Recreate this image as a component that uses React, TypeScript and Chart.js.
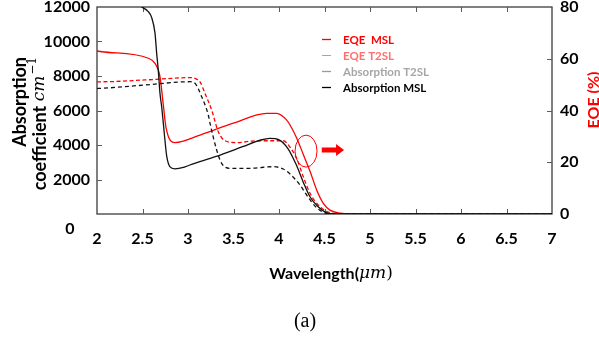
import React, { useEffect, useRef } from "react";
import { Chart, registerables } from "chart.js";

Chart.register(...registerables);

// ---- data (wavelength in µm) ----
const absMslWl = [2.0, 2.3, 2.45, 2.5, 2.56, 2.6, 2.637, 2.656, 2.674, 2.692, 2.711, 2.729, 2.75, 2.766, 2.8, 2.857, 2.95, 3.02, 3.3, 3.6, 3.8, 3.9, 4.0, 4.1, 4.19, 4.27, 4.34, 4.43, 4.52, 4.6, 5.0, 7.0];
const absMslVal = [13000, 12700, 12150, 11980, 11750, 11400, 10500, 9300, 8300, 7000, 6200, 5250, 4100, 3350, 2750, 2620, 2700, 2840, 3320, 3900, 4290, 4380, 4300, 3780, 2850, 1800, 1000, 420, 80, 0, 0, 0];

const absT2slWl = [2.0, 2.052, 2.527, 3.022, 3.077, 3.15, 3.223, 3.242, 3.315, 3.37, 3.462, 3.681, 3.937, 4.047, 4.121, 4.231, 4.318, 4.406, 4.495, 4.6, 5.0, 7.0];
const absT2slVal = [7280, 7287, 7478, 7669, 7577, 6800, 5739, 5258, 3710, 2939, 2649, 2649, 2742, 2609, 2320, 1680, 986, 406, 87, 0, 0, 0];

const eqeMslWl = [2.0, 2.052, 2.564, 2.637, 2.692, 2.729, 2.758, 2.857, 3.132, 3.498, 3.865, 3.975, 4.085, 4.121, 4.194, 4.267, 4.341, 4.414, 4.487, 4.56, 4.67, 4.8, 7.0];
const eqeMslVal = [63.0, 62.7, 60.2, 58.2, 53.1, 42.1, 33.5, 27.6, 30.5, 35.1, 38.9, 38.9, 36.3, 34.4, 29.4, 23.0, 16.5, 9.3, 4.1, 1.5, 0.3, 0, 0];

const eqeT2slWl = [2.0, 2.052, 2.527, 3.04, 3.095, 3.132, 3.187, 3.26, 3.333, 3.407, 3.535, 3.755, 4.047, 4.12, 4.194, 4.267, 4.341, 4.451, 4.56, 4.7, 7.0];
const eqeT2slVal = [51.1, 51.1, 51.8, 52.7, 52.1, 51.1, 46.6, 40.2, 31.8, 28.3, 27.6, 28.3, 28.3, 25.9, 21.5, 14.4, 8.0, 2.8, 0.5, 0, 0];

const X_MIN = 2, X_MAX = 7, X_STEP = 0.5;
const ABS_MAX = 12000, ABS_STEP = 2000;
const EQE_MAX = 80, EQE_STEP = 20;

const seriesLabels = ["EQE  MSL", "EQE T2SL", "Absorption T2SL", "Absorption MSL"];
const legendTextColors = ["#ff0000", "#ff6f6f", "#a6a6a6", "#000000"];
const legendLineColors = ["#ff0000", "#ff8080", "#9a9a9a", "#000000"];

const BOLD = "Lato";
const toXY = (xs: number[], ys: number[]) => xs.map((x, i) => ({ x, y: ys[i] }));

const decorPlugin = {
  id: "decor",
  beforeDatasetsDraw(chart: any) {
    const { ctx, chartArea: ca, scales } = chart;
    const sx = scales.x, sy = scales.y, sy1 = scales.y1;
    ctx.save();
    ctx.strokeStyle = "#3c3c3c";
    ctx.lineWidth = 1.3;
    ctx.strokeRect(ca.left, ca.top, ca.right - ca.left, ca.bottom - ca.top);
    ctx.strokeStyle = "#5a5a5a";
    ctx.lineWidth = 1;
    const L = 5;
    ctx.beginPath();
    for (let v = X_MIN + X_STEP; v < X_MAX - 1e-6; v += X_STEP) {
      const px = Math.round(sx.getPixelForValue(v)) + 0.5;
      ctx.moveTo(px, ca.bottom); ctx.lineTo(px, ca.bottom - L);
      ctx.moveTo(px, ca.top); ctx.lineTo(px, ca.top + L);
    }
    for (let v = ABS_STEP; v < ABS_MAX; v += ABS_STEP) {
      const py = Math.round(sy.getPixelForValue(v)) + 0.5;
      ctx.moveTo(ca.left, py); ctx.lineTo(ca.left + L, py);
    }
    for (let v = EQE_STEP; v < EQE_MAX; v += EQE_STEP) {
      const py = Math.round(sy1.getPixelForValue(v)) + 0.5;
      ctx.moveTo(ca.right, py); ctx.lineTo(ca.right - L, py);
    }
    ctx.stroke();
    ctx.restore();
  },
  afterDraw(chart: any) {
    const { ctx, chartArea: ca, scales } = chart;
    const sx = scales.x, sy1 = scales.y1;
    ctx.save();
    ctx.textBaseline = "middle";

    // lone "0" label of the left axis
    ctx.fillStyle = "#000";
    ctx.font = `bold 16px ${BOLD}`;
    ctx.textAlign = "center";
    ctx.fillText("0", 70, ca.bottom + 15);

    // left title (rotated)
    {
      ctx.save();
      ctx.translate(20, 57);
      ctx.rotate(-Math.PI / 2);
      ctx.textAlign = "right";
      ctx.font = `bold 18px ${BOLD}`;
      ctx.fillText("Absorption", 0, 0);
      ctx.restore();

      ctx.save();
      ctx.translate(40, 57);
      ctx.rotate(-Math.PI / 2);
      ctx.textAlign = "left";
      const f1 = `bold 18px ${BOLD}`;
      const f2 = `italic 17px 'DejaVu Serif'`;
      const f3 = `12px 'DejaVu Serif'`;
      ctx.font = f1; const w1 = ctx.measureText("coefficient ").width;
      ctx.font = f2; const w2 = ctx.measureText("cm").width;
      ctx.font = f3; const w3 = ctx.measureText("\u22121").width;
      let x0 = -(w1 + w2 + w3 + 1);
      ctx.font = f1; ctx.fillText("coefficient ", x0, 0); x0 += w1;
      ctx.font = f2; ctx.fillText("cm", x0, 0); x0 += w2 + 1;
      ctx.font = f3; ctx.fillText("\u22121", x0, -7);
      ctx.restore();
    }

    // right title
    ctx.save();
    ctx.translate(594, 100);
    ctx.rotate(-Math.PI / 2);
    ctx.textAlign = "center";
    ctx.fillStyle = "#ff0000";
    ctx.font = `bold 16px ${BOLD}`;
    ctx.fillText("EOE (%)", 0, 0);
    ctx.restore();

    // bottom title
    {
      const f1 = `bold 16px ${BOLD}`;
      const f2 = `italic 17px 'DejaVu Serif'`;
      const f3 = `17px 'DejaVu Serif'`;
      ctx.font = f1; const w1 = ctx.measureText("Wavelength(").width;
      ctx.font = f2; const w2 = ctx.measureText("\u03bcm").width;
      ctx.font = f3; const w3 = ctx.measureText(")").width;
      let x0 = 331 - (w1 + w2 + w3) / 2;
      const yy = 274;
      ctx.textAlign = "left";
      ctx.fillStyle = "#000";
      ctx.font = f1; ctx.fillText("Wavelength(", x0, yy); x0 += w1;
      ctx.font = f2; ctx.fillText("\u03bcm", x0, yy); x0 += w2;
      ctx.font = f3; ctx.fillText(")", x0, yy);
    }

    // caption
    ctx.textAlign = "center";
    ctx.fillStyle = "#000";
    ctx.font = `20px 'Liberation Serif'`;
    ctx.fillText("(a)", 305, 322);

    // legend
    const rowsY = [39, 55, 71, 87];
    seriesLabels.forEach((lab, i) => {
      const yy = rowsY[i];
      ctx.strokeStyle = legendLineColors[i];
      ctx.lineWidth = i === 1 ? 1 : 1.3;
      ctx.beginPath();
      ctx.moveTo(322, yy + 0.5);
      ctx.lineTo(331, yy + 0.5);
      ctx.stroke();
      ctx.fillStyle = legendTextColors[i];
      ctx.font = `bold 11.5px ${BOLD}`;
      ctx.textAlign = "left";
      ctx.fillText(lab, 343, yy + 1);
    });

    // ellipse highlight
    const ex = sx.getPixelForValue(4.297);
    const ey = sy1.getPixelForValue(24.3);
    ctx.strokeStyle = "#ff0000";
    ctx.lineWidth = 1;
    ctx.beginPath();
    ctx.ellipse(ex, ey, 11, 16, 0, 0, Math.PI * 2);
    ctx.stroke();

    // arrow
    const ax0 = sx.getPixelForValue(4.47);
    const ax1 = sx.getPixelForValue(4.715);
    const ay = sy1.getPixelForValue(24.7);
    ctx.fillStyle = "#ff0000";
    ctx.beginPath();
    ctx.moveTo(ax0, ay - 2.5);
    ctx.lineTo(ax1 - 8, ay - 2.5);
    ctx.lineTo(ax1 - 8, ay - 6);
    ctx.lineTo(ax1, ay);
    ctx.lineTo(ax1 - 8, ay + 6);
    ctx.lineTo(ax1 - 8, ay + 2.5);
    ctx.lineTo(ax0, ay + 2.5);
    ctx.closePath();
    ctx.fill();

    ctx.restore();
  },
};

export default function App() {
  const ref = useRef<HTMLCanvasElement | null>(null);
  useEffect(() => {
    document.body.style.margin = "0";
    const canvas = ref.current;
    if (!canvas) return;
    const tickFont = { family: BOLD, size: 16, weight: "bold" as const };
    const noVertPad = (s: any, w: number) => {
      s.width = w;
      s.paddingTop = 0;
      s.paddingBottom = 0;
    };
    const chart = new Chart(canvas, {
      type: "line",
      data: {
        datasets: [
          {
            label: seriesLabels[3],
            data: toXY(absMslWl, absMslVal),
            borderColor: "#111111",
            borderWidth: 1.3,
            yAxisID: "y",
          },
          {
            label: seriesLabels[2],
            data: toXY(absT2slWl, absT2slVal),
            borderColor: "#111111",
            borderWidth: 1.3,
            borderDash: [4, 3],
            yAxisID: "y",
          },
          {
            label: seriesLabels[1],
            data: toXY(eqeT2slWl, eqeT2slVal),
            borderColor: "#ff0000",
            borderWidth: 1.3,
            borderDash: [4, 2.5],
            yAxisID: "y1",
          },
          {
            label: seriesLabels[0],
            data: toXY(eqeMslWl, eqeMslVal),
            borderColor: "#ff0000",
            borderWidth: 1.3,
            yAxisID: "y1",
          },
        ] as any,
      },
      options: {
        responsive: false,
        animation: false,
        devicePixelRatio: 1,
        layout: { padding: { top: 7, left: 0, right: 0, bottom: 0 } },
        elements: {
          point: { radius: 0 },
          line: { cubicInterpolationMode: "monotone", fill: false },
        },
        plugins: { legend: { display: false }, tooltip: { enabled: false }, title: { display: false } },
        scales: {
          x: {
            type: "linear",
            min: X_MIN,
            max: X_MAX,
            grid: { display: false, drawTicks: false },
            border: { display: false },
            ticks: {
              stepSize: X_STEP,
              autoSkip: false,
              maxRotation: 0,
              padding: 15,
              color: "#000",
              font: tickFont,
              callback: (v: any) => String(Number(v)),
            },
            afterFit: (s: any) => {
              s.height = 124;
              s.paddingLeft = 0;
              s.paddingRight = 0;
            },
          },
          y: {
            type: "linear",
            position: "left",
            min: 0,
            max: ABS_MAX,
            grid: { display: false, drawTicks: false },
            border: { display: false },
            ticks: {
              stepSize: ABS_STEP,
              autoSkip: false,
              padding: 7,
              color: "#000",
              font: tickFont,
              callback: (v: any) => (Number(v) === 0 ? "" : String(v)),
            },
            afterFit: (s: any) => noVertPad(s, 97),
          },
          y1: {
            type: "linear",
            position: "right",
            min: 0,
            max: EQE_MAX,
            grid: { display: false, drawTicks: false },
            border: { display: false },
            ticks: {
              stepSize: EQE_STEP,
              autoSkip: false,
              padding: 8,
              color: "#000",
              font: tickFont,
            },
            afterFit: (s: any) => noVertPad(s, 47),
          },
        },
      } as any,
      plugins: [decorPlugin],
    });
    return () => chart.destroy();
  }, []);
  return (
    <div style={{ width: 599, height: 338, background: "#fff" }}>
      <canvas ref={ref} width={599} height={338} style={{ display: "block", width: 599, height: 338 }} />
    </div>
  );
}
